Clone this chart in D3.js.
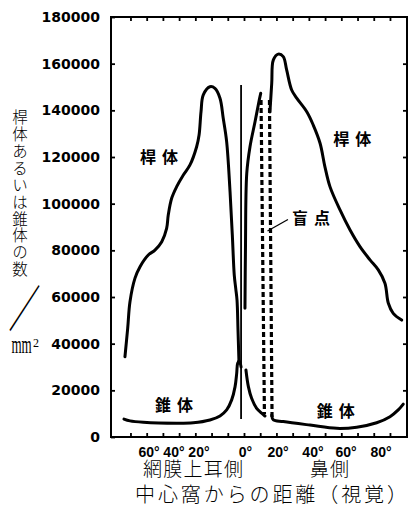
<!DOCTYPE html>
<html><head><meta charset="utf-8">
<script src="https://cdn.jsdelivr.net/npm/d3@7"></script>
<style>body{margin:0;background:#fff}svg{display:block}</style>
</head><body><svg id="c" width="411" height="513"></svg>
<script>
// ---------- data ----------
const yTicks = [0, 20000, 40000, 60000, 80000, 100000, 120000, 140000, 160000, 180000];
const xMinorTicks = [-70, -60, -50, -40, -30, -20, -10, 0, 10, 20, 30, 40, 50, 60, 70, 80, 90];
const xLabelPos = [-58.9, -43.5, -28.1, 0.6, 20.7, 42.2, 62.6, 84.2];
const xLabels = ["60°", "40°", "20°", "0°", "20°", "40°", "60°", "80°"];

// [degrees, count per mm²]
const rodsTemporal = [[-73.4,34400],[-71.7,46700],[-70.3,58000],[-67.2,68100],[-64.1,73000],[-59.0,78000],[-54.9,80100],[-50.7,83700],[-47.7,89400],[-46.7,95100],[-44.6,102300],[-41.5,107300],[-37.4,112300],[-33.3,116600],[-29.2,124400],[-27.7,129400],[-26.5,139400],[-25.1,146600],[-21.0,150100],[-17.9,149400],[-14.8,145200],[-12.8,136600],[-10.7,126600],[-8.6,105100],[-7.2,86600],[-6.0,69400],[-5.1,63700],[-4.3,58700],[-3.7,45900],[-3.1,32100]];
const rodsNasalInner = [[0.6,55200],[0.9,80100],[1.7,113000],[3.7,124400],[6.8,135100],[9.4,144400],[10.3,147300]];
const rodsNasalOuter = [[16.0,139300],[17.1,151600],[18.1,161600],[21.1,164100],[24.2,163000],[26.3,157300],[29.4,148700],[32.5,145200],[38.7,139400],[42.7,133700],[46.9,125900],[49.9,115800],[53.0,107300],[59.2,97300],[65.4,88700],[71.5,81600],[77.7,75900],[82.8,71600],[86.9,65900],[89.0,57300],[92.0,53000],[97.2,50100]];
const conesTemporal = [[-74.0,7700],[-70.3,6900],[-62.1,6300],[-41.5,5900],[-31.3,6100],[-21.0,7300],[-14.8,9000],[-10.7,11600],[-7.6,15900],[-5.5,21600],[-4.5,27300],[-3.9,31600],[-2.9,32600],[-1.8,30000]];
const conesNasalInner = [[1.2,28700],[2.7,21600],[4.7,16600],[7.8,12300],[10.9,10200],[12.9,9000]];
const conesNasalOuter = [[17.1,9400],[18.1,7300],[24.2,6600],[40.7,5100],[57.2,3700],[69.5,4200],[81.8,6100],[90.0,8700],[95.1,11600],[98.2,14100]];
const blindSpotEdges = [[[10.5,144400],[12.6,9900]], [[15.7,144400],[17.3,8100]]];
const foveaLine = [[-1.8,7700],[-1.8,150900]];
const blindSpotPointer = [[14.5,88300],[27.1,93200]];

const yTitle = "桿体あるいは錐体の数";
const xSubLeft = "網膜上耳側";
const xSubRight = "鼻側";
const xTitle = "中心窩からの距離（視覚）";
// label: [deg (left edge), value (vertical centre), text]
const curveLabels = [[-64.1,120000,"桿体"],[55.1,127700,"桿体"],[-54.9,13700,"錐体"],[44.8,11100,"錐体"],[29.6,93900,"盲点"]];

// ---------- chart ----------
const svg = d3.select("#c");
const x = d3.scaleLinear().domain([-82, 100.5]).range([111, 407]);
const y = d3.scaleLinear().domain([0, 180000]).range([437, 17]);
const CJK = "'Noto Sans CJK JP','Noto Sans CJK SC',sans-serif";

function styleAxis(g){
  g.select(".domain").remove();
  g.selectAll(".tick line").attr("stroke","#000").attr("stroke-width",1.8);
}
// left axis with labels
svg.append("g").attr("transform","translate(111,0)")
  .call(d3.axisLeft(y).tickValues(yTicks).tickSizeInner(-4).tickSizeOuter(0).tickPadding(11).tickFormat(d=>String(d)))
  .call(styleAxis)
  .selectAll("text").attr("font-family","'DejaVu Sans',sans-serif").attr("font-weight","bold").attr("font-size",14).attr("fill","#000");
// right axis ticks
svg.append("g").attr("transform","translate(407,0)")
  .call(d3.axisRight(y).tickValues(yTicks.slice(1,-1)).tickSizeInner(-4).tickSizeOuter(0).tickFormat(""))
  .call(styleAxis);
// top ticks
svg.append("g").attr("transform","translate(0,17)")
  .call(d3.axisTop(x).tickValues(xMinorTicks).tickSizeInner(-4).tickSizeOuter(0).tickFormat(""))
  .call(styleAxis);
// bottom ticks
svg.append("g").attr("transform","translate(0,437)")
  .call(d3.axisBottom(x).tickValues(xMinorTicks).tickSizeInner(-4).tickSizeOuter(0).tickFormat(""))
  .call(styleAxis);
// bottom labels
svg.append("g").attr("transform","translate(0,437)")
  .call(d3.axisBottom(x).tickValues(xLabelPos).tickSize(0).tickPadding(10).tickFormat((d,i)=>xLabels[i]))
  .call(g=>g.select(".domain").remove())
  .selectAll("text").attr("font-family","'Liberation Sans',Arial,sans-serif").attr("font-weight","bold").attr("font-size",14).attr("fill","#000");

// frame
svg.append("rect").attr("x",x.range()[0]).attr("y",y.range()[1])
  .attr("width",x.range()[1]-x.range()[0]).attr("height",y.range()[0]-y.range()[1])
  .attr("fill","none").attr("stroke","#000").attr("stroke-width",2);

const line = d3.line().x(d=>x(d[0])).y(d=>y(d[1])).curve(d3.curveCatmullRom.alpha(0.5));
const straight = d3.line().x(d=>x(d[0])).y(d=>y(d[1]));

[rodsTemporal, rodsNasalInner, rodsNasalOuter, conesTemporal, conesNasalInner, conesNasalOuter].forEach(s=>{
  svg.append("path").attr("d",line(s)).attr("fill","none").attr("stroke","#000")
    .attr("stroke-width",3).attr("stroke-linecap","round").attr("stroke-linejoin","round");
});
blindSpotEdges.forEach(s=>{
  svg.append("path").attr("d",straight(s)).attr("fill","none").attr("stroke","#000")
    .attr("stroke-width",3.2).attr("stroke-dasharray","5,3");
});
svg.append("path").attr("d",straight(foveaLine)).attr("stroke","#000").attr("stroke-width",1.8);
svg.append("path").attr("d",straight(blindSpotPointer)).attr("stroke","#000").attr("stroke-width",1.3);

// curve labels
svg.selectAll("text.cl").data(curveLabels).join("text").attr("class","cl")
  .attr("x",d=>x(d[0])).attr("y",d=>y(d[1])+6)
  .attr("font-family",CJK).attr("font-weight","bold").attr("font-size",16)
  .attr("letter-spacing",6).attr("fill","#000").text(d=>d[2]);

// y title (vertical writing)
svg.append("text").attr("x",20).attr("y",109.5)
  .style("writing-mode","vertical-rl").attr("letter-spacing",1.4)
  .attr("font-family",CJK).attr("font-weight",300).attr("font-size",15.5).attr("fill","#000").text(yTitle);
svg.append("text").attr("transform","translate(24.5,308) scale(0.65,1)")
  .attr("x",0).attr("y",19).attr("text-anchor","middle")
  .attr("font-family",CJK).attr("font-weight",200).attr("font-size",50).attr("fill","#000").text("／");
svg.append("text").attr("transform","translate(11.5,353) scale(0.5,1)")
  .attr("font-family","'Liberation Serif',serif").attr("font-size",26).attr("fill","#000").text("mm");
svg.append("text").attr("x",33).attr("y",346.5)
  .attr("font-family","'Liberation Serif',serif").attr("font-size",12).attr("fill","#000").text("2");

// x titles
svg.append("text").attr("x",143).attr("y",475.5).attr("textLength",100).attr("lengthAdjust","spacing")
  .attr("font-family",CJK).attr("font-weight",300).attr("font-size",19).attr("fill","#000").text(xSubLeft);
svg.append("text").attr("x",310).attr("y",475.5).attr("textLength",39).attr("lengthAdjust","spacing")
  .attr("font-family",CJK).attr("font-weight",300).attr("font-size",19).attr("fill","#000").text(xSubRight);
svg.append("text").attr("x",135).attr("y",501.5).attr("textLength",272).attr("lengthAdjust","spacing")
  .attr("font-family",CJK).attr("font-weight",300).attr("font-size",20).attr("fill","#000").text(xTitle);
</script></body></html>
